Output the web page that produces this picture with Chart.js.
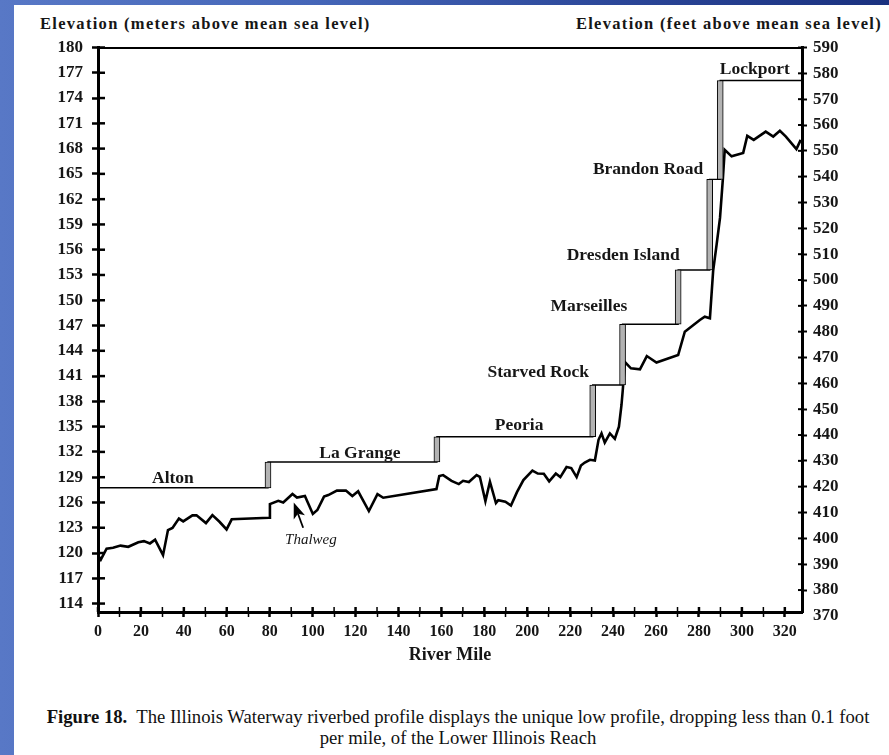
<!DOCTYPE html>
<html>
<head>
<meta charset="utf-8">
<title>Illinois Waterway riverbed profile</title>
<script src="https://cdn.jsdelivr.net/npm/chart.js@4.4.1/dist/chart.umd.min.js"></script>
<style>
  html, body { margin: 0; padding: 0; }
  body {
    width: 889px; height: 755px; position: relative; overflow: hidden;
    background: linear-gradient(90deg, #5878c6 0%, #4566b8 35%, #2b4698 70%, #1a317f 100%);
  }
  #sheet { position: absolute; left: 14px; top: 5px; right: 0; bottom: 0; background: #fff; }
  #wrap { position: absolute; left: 0; top: 0; width: 889px; height: 690px; }
  .hdr {
    position: absolute; top: 14px; line-height: 20px; white-space: nowrap;
    font: bold 16.5px "Liberation Serif", "Times New Roman", serif; letter-spacing: 1.3px; color: #161616;
  }
  #hdrLeft { left: 40px; }
  #hdrRight { right: 7px; }
  #caption {
    position: absolute; left: 0; top: 706px; width: 916px; text-align: center;
    font: 18.7px "Liberation Serif", "Times New Roman", serif; line-height: 21px; color: #111;
  }
</style>
</head>
<body>
<div id="sheet"></div>
<div class="hdr" id="hdrLeft">Elevation (meters above mean sea level)</div>
<div class="hdr" id="hdrRight">Elevation (feet above mean sea level)</div>
<div id="wrap"><canvas id="profile" width="889" height="690"></canvas></div>
<div id="caption"><b>Figure 18.</b>&nbsp; The Illinois Waterway riverbed profile displays the unique low profile, dropping less than 0.1 foot<br>per mile, of the Lower Illinois Reach</div>
<script>
// Riverbed (thalweg) profile: river mile and bed elevation in meters
const riverMiles = [
  0, 1.3, 4.0, 7.0, 10.5, 14.1, 18.8, 21.4, 24.2, 26.6,
  30.3, 32.6, 34.7, 37.7, 39.7, 44.0, 45.9, 50.3, 53.3, 56.6,
  59.9, 62.3, 79.7, 80.1, 84.0, 86.3, 90.6, 92.7, 96.4, 100.1,
  102.2, 105.3, 107.3, 111.3, 115.5, 118.5, 121.2, 126.2, 130.2, 132.9,
  157.7, 159.0, 160.8, 164.7, 168.1, 170.1, 172.8, 176.4, 177.9, 180.5,
  182.6, 185.4, 186.5, 189.8, 192.4, 195.2, 198.2, 202.4, 204.9, 207.7,
  210.2, 213.3, 215.4, 218.3, 220.5, 223.0, 225.0, 226.8, 229.2, 231.5,
  233.2, 234.6, 236.1, 238.5, 240.8, 242.7, 243.9, 244.5, 245.5, 248.3,
  252.5, 255.7, 260.2, 270.3, 273.4, 280.4, 282.7, 285.1, 286.6, 288.2,
  289.8, 291.1, 292.0, 295.2, 300.6, 302.5, 305.5, 311.1, 314.6, 317.7,
  320.5, 325.4, 327.4
];
const bedElevation = [
  119.75, 119.22, 120.52, 120.62, 120.88, 120.74, 121.27, 121.41, 121.14, 121.59,
  119.75, 122.72, 122.98, 124.09, 123.76, 124.47, 124.47, 123.55, 124.5, 123.71,
  122.8, 124.0, 124.18, 125.81, 126.19, 125.99, 127.0, 126.58, 126.76, 124.64,
  125.1, 126.7, 126.88, 127.41, 127.41, 126.76, 127.32, 124.98, 127.0, 126.56,
  127.59, 129.13, 129.25, 128.57, 128.18, 128.57, 128.42, 129.25, 129.05, 126.16,
  128.46, 125.93, 126.28, 126.08, 125.63, 127.23, 128.66, 129.79, 129.43, 129.41,
  128.51, 129.43, 129.01, 130.2, 130.08, 129.01, 130.38, 130.74, 131.07, 130.97,
  133.44, 134.2, 133.11, 134.2, 133.56, 134.99, 137.57, 139.35, 142.67, 141.92,
  141.8, 143.38, 142.61, 143.5, 146.27, 147.66, 148.05, 147.86, 153.48, 156.57,
  159.77, 164.29, 167.85, 167.08, 167.49, 169.51, 169.04, 170.02, 169.43, 170.11,
  169.43, 167.95, 169.04
];

// Navigation pools (upstream to the next lock) and their water surface, meters
const poolNames = ['Alton', 'La Grange', 'Peoria', 'Starved Rock', 'Marseilles', 'Dresden Island', 'Brandon Road', 'Lockport'];
const poolElevation = [127.74, 130.8, 133.8, 139.94, 147.15, 153.6, 164.35, 176.08];
// River mile of each lock separating consecutive pools
const lockMiles = [79.2, 157.9, 230.5, 244.4, 270.3, 285.0, 289.9];

// Axis ticks
const mileTicks = [0, 10, 20, 30, 40, 50, 60, 70, 80, 90, 100, 110, 120, 130, 140, 150, 160,
  170, 180, 190, 200, 210, 220, 230, 240, 250, 260, 270, 280, 290, 300, 310, 320];
const meterTicks = [114, 117, 120, 123, 126, 129, 132, 135, 138, 141, 144, 147, 150, 153, 156,
  159, 162, 165, 168, 171, 174, 177, 180];
const feetTicks = [370, 380, 390, 400, 410, 420, 430, 440, 450, 460, 470, 480, 490, 500, 510,
  520, 530, 540, 550, 560, 570, 580, 590];

const MILE_MAX = 328;
const M_MIN = 113, M_MAX = 180;
const FT_MIN = 371.5, FT_MAX = 590;

const serif = '"Liberation Serif", "Times New Roman", serif';
const ink = '#161616';

// Pool water surface as a stepped line, stepping up at each lock
const poolLine = [{ x: 0, y: poolElevation[0] }];
lockMiles.forEach((m, i) => {
  poolLine.push({ x: m, y: poolElevation[i] });
  poolLine.push({ x: m, y: poolElevation[i + 1] });
});
poolLine.push({ x: MILE_MAX, y: poolElevation[poolElevation.length - 1] });

// Lock lifts: floating bars from the lower pool to the upper pool
const lockBars = lockMiles.map((m, i) => ({ x: m, y: [poolElevation[i], poolElevation[i + 1]] }));

const bedLine = riverMiles.map((m, i) => ({ x: m, y: bedElevation[i] }));

// Where each pool name sits (river mile, meters)
const poolLabelAt = [
  [34.9, 128.86], [122.0, 131.86], [196.2, 135.19], [205.1, 141.45],
  [228.7, 149.32], [244.7, 155.3], [256.3, 165.47], [306.0, 177.35]
];

const poolLabels = {
  id: 'poolLabels',
  afterDatasetsDraw(chart) {
    const { ctx, scales: { x, y } } = chart;
    ctx.save();
    ctx.fillStyle = ink;
    ctx.font = 'bold 17.5px ' + serif;
    ctx.textAlign = 'center';
    ctx.textBaseline = 'middle';
    poolNames.forEach((name, i) => {
      const [m, e] = poolLabelAt[i];
      ctx.fillText(name, x.getPixelForValue(m), y.getPixelForValue(e));
    });

    // "Thalweg" callout with its arrow pointing at the bed line
    const tail = { x: x.getPixelForValue(95.6), y: y.getPixelForValue(123.0) };
    const tip = { x: x.getPixelForValue(91.2), y: y.getPixelForValue(126.0) };
    const ang = Math.atan2(tip.y - tail.y, tip.x - tail.x);
    const c = Math.cos(ang), s = Math.sin(ang);
    const headLen = 16, headW = 6;
    const bx = tip.x - headLen * c, by = tip.y - headLen * s;
    ctx.strokeStyle = '#000';
    ctx.lineWidth = 1.8;
    ctx.beginPath();
    ctx.moveTo(tail.x, tail.y);
    ctx.lineTo(bx + 4 * c, by + 4 * s);
    ctx.stroke();
    ctx.fillStyle = '#000';
    ctx.beginPath();
    ctx.moveTo(tip.x, tip.y);
    ctx.lineTo(bx + headW * s, by - headW * c);
    ctx.lineTo(bx + 4 * c, by + 4 * s);
    ctx.lineTo(bx - headW * s, by + headW * c);
    ctx.closePath();
    ctx.fill();

    ctx.fillStyle = ink;
    ctx.font = 'italic 15px ' + serif;
    ctx.fillText('Thalweg', x.getPixelForValue(99.2), y.getPixelForValue(121.5));
    ctx.restore();
  }
};

// Tick marks that also reach inside the frame, so each tick crosses its axis
const crossTicks = {
  id: 'crossTicks',
  afterDraw(chart) {
    const { ctx, chartArea: a, scales } = chart;
    ctx.save();
    ctx.strokeStyle = '#000';
    const seg = (x1, y1, x2, y2, w) => {
      ctx.lineWidth = w;
      ctx.beginPath(); ctx.moveTo(x1, y1); ctx.lineTo(x2, y2); ctx.stroke();
    };
    const xs = scales.x;
    xs.ticks.forEach(t => {
      if (t.value < xs.min || t.value > xs.max) return;
      const px = xs.getPixelForValue(t.value);
      seg(px, a.bottom, px, a.bottom - 5, t.value % 20 === 0 ? 2.5 : 1.5);
    });
    const ys = scales.y;
    ys.ticks.forEach(t => {
      if (t.value < ys.min || t.value > ys.max) return;
      const py = ys.getPixelForValue(t.value);
      seg(a.left, py, a.left + 7, py, 2.5);
    });
    const fs = scales.y2;
    fs.ticks.forEach(t => {
      if (t.value < fs.min || t.value > fs.max) return;
      const py = fs.getPixelForValue(t.value);
      seg(a.right, py, a.right - 4, py, 2);
    });
    ctx.restore();
  }
};

const tickFont = (size) => ({ family: serif, weight: 'bold', size });

new Chart(document.getElementById('profile'), {
  type: 'line',
  data: {
    datasets: [
      {
        type: 'bar', label: 'Locks', data: lockBars, yAxisID: 'y',
        backgroundColor: '#b3b3b3', borderColor: '#000', borderWidth: 1,
        borderSkipped: false, barThickness: 6, grouped: false, order: 0
      },
      {
        type: 'line', label: 'Pool level', data: poolLine, yAxisID: 'y',
        borderColor: '#000', borderWidth: 1.4, pointRadius: 0, tension: 0, order: 1
      },
      {
        type: 'line', label: 'Thalweg', data: bedLine, yAxisID: 'y',
        borderColor: '#000', borderWidth: 2.6, pointRadius: 0, tension: 0,
        borderJoinStyle: 'miter', order: 2
      }
    ]
  },
  options: {
    responsive: false,
    animation: false,
    layout: { padding: { top: 47.5, left: 0, right: 0, bottom: 0 } },
    plugins: { legend: { display: false }, tooltip: { enabled: false } },
    scales: {
      x: {
        type: 'linear', position: 'bottom', min: 0, max: MILE_MAX, offset: false,
        afterBuildTicks: s => { s.ticks = mileTicks.map(v => ({ value: v })); },
        afterFit: s => { s.height = 690 - 612; },
        ticks: {
          autoSkip: false, maxRotation: 0, padding: 5, color: ink, font: tickFont(16),
          callback: v => (v % 20 === 0 ? String(v) : '')
        },
        grid: {
          drawOnChartArea: false, offset: false, tickLength: 5, tickColor: '#000',
          tickWidth: c => (c.tick && c.tick.value % 20 === 0 ? 2.5 : 1.5)
        },
        border: { display: true, color: '#000', width: 3 },
        title: {
          display: true, text: 'River Mile', color: ink, font: tickFont(18),
          padding: { top: 0, bottom: 24 }
        }
      },
      xTop: {
        type: 'linear', position: 'top', min: 0, max: MILE_MAX, offset: false,
        afterFit: s => { s.height = 0; },
        ticks: { display: false },
        grid: { display: true, drawOnChartArea: false, drawTicks: false },
        border: { display: true, color: '#000', width: 2 }
      },
      y: {
        type: 'linear', position: 'left', min: M_MIN, max: M_MAX,
        afterBuildTicks: s => { s.ticks = meterTicks.map(v => ({ value: v })); },
        afterFit: s => { s.width = 98; },
        ticks: { autoSkip: false, padding: 9, color: ink, font: tickFont(17) },
        grid: { drawOnChartArea: false, tickLength: 6, tickColor: '#000', tickWidth: 2.5 },
        border: { display: true, color: '#000', width: 3 }
      },
      y2: {
        type: 'linear', position: 'right', min: FT_MIN, max: FT_MAX,
        afterBuildTicks: s => { s.ticks = feetTicks.map(v => ({ value: v })); },
        afterFit: s => { s.width = 889 - 802; },
        ticks: { autoSkip: false, padding: 6, color: ink, font: tickFont(17) },
        grid: {
          drawOnChartArea: false, tickLength: 5, tickWidth: 2,
          tickColor: c => (c.tick && c.tick.value < FT_MIN ? 'rgba(0,0,0,0)' : '#000')
        },
        border: { display: true, color: '#000', width: 3 }
      }
    }
  },
  plugins: [poolLabels, crossTicks]
});
</script>
</body>
</html>
